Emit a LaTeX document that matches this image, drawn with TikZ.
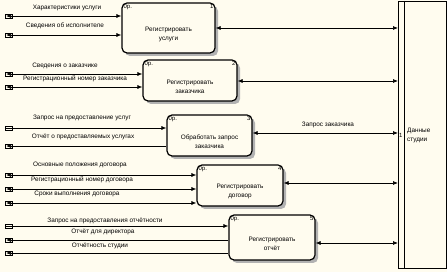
\documentclass[tikz,border=0pt]{standalone}
\usepackage{fontspec}
\setmainfont{Liberation Sans}
\usetikzlibrary{arrows.meta,shadows}
\definecolor{bgc}{HTML}{FFFCEF}
\tikzset{
  proc/.style={draw=black, line width=1.2pt, rounded corners=5pt, fill=bgc, inner sep=0pt,
    drop shadow={shadow xshift=3pt, shadow yshift=-3pt, fill=gray!60, opacity=1}},
  flow/.style={draw=black, line width=0.7pt},
  lbl/.style={font=\fontsize{6.4}{9}\selectfont, inner sep=0pt},
  small/.style={font=\fontsize{6}{6}\selectfont, inner sep=0pt},
  tun/.style={draw=black, line width=0.8pt}
}
\newcommand{\tunnel}[1]{%
  \draw[tun] ([xshift=-1pt,yshift=-1.5pt]#1) -- ++(0,-3.5) -- ++(7,0) -- ++(0,3.5);
  \draw[tun] ([xshift=-1pt,yshift=1.5pt]#1) -- ++(0,3.5) -- ++(7,0) -- ++(0,-3.5);}
\begin{document}
\begin{tikzpicture}[x=1pt,y=-1pt]
\fill[bgc] (0,0) rectangle (447,272);
\useasboundingbox (0,0) rectangle (447,272);

% data store
\node[draw=black, line width=0.8pt, minimum width=48pt, minimum height=267pt, inner sep=0pt, anchor=north west] (st) at (398,1) {};
\draw[line width=0.8pt] (404,1) -- (404,268);
\node[small] (stn) at (400.8,135) {1};
\node[lbl, align=left, anchor=west] (stl) at (407,135) {Данные\\ студии};

% process boxes
\node[proc, minimum width=93pt, minimum height=50pt] (b1) at (168.5,28) {};
\node[proc, minimum width=94pt, minimum height=41pt] (b2) at (190,80.5) {};
\node[proc, minimum width=85pt, minimum height=41pt] (b3) at (209.5,135.5) {};
\node[proc, minimum width=86pt, minimum height=41pt] (b4) at (240,185.5) {};
\node[proc, minimum width=86pt, minimum height=45pt] (b5) at (272,237.5) {};

\foreach \b/\n/\t in {b1/1/{Регистрировать\\ услуги}, b2/2/{Регистрировать\\ заказчика}, b3/3/{Обработать запрос\\ заказчика}, b4/4/{Регистрировать\\ договор}, b5/5/{Регистрировать\\ отчёт}}{
  \node[small, anchor=north west] (\b op) at ([xshift=2pt,yshift=-2pt]\b.north west) {0р.};
  \node[small, anchor=north east] (\b no) at ([xshift=-2pt,yshift=-2pt]\b.north east) {\n};
  \node[lbl, align=center] (\b nm) at ([yshift=-6pt]\b.center) {\t};
}

% connections to store
\coordinate (r1) at (0,28);
\coordinate (r2) at (0,81);
\coordinate (r3) at (0,133);
\coordinate (r4) at (0,183);
\coordinate (r5) at (0,243);
\foreach \b/\r in {b1/r1,b2/r2,b3/r3,b4/r4,b5/r5}{
  \draw[flow, {Latex[length=5pt,width=4pt]}-{Latex[length=5pt,width=4pt]}] (\b.east |- \r) -- (st.west |- \r);
}
\node[lbl] (q) at (328,125) {Запрос заказчика};

% left tunnels and flows
\coordinate (e11) at (6,16);
\coordinate (e12) at (6,35);
\coordinate (e21) at (6,74);
\coordinate (e22) at (6,87);
\coordinate (e31) at (6,128);
\coordinate (e32) at (6,146);
\coordinate (e41) at (6,175);
\coordinate (e42) at (6,189);
\coordinate (e43) at (6,203);
\coordinate (e51) at (6,226);
\coordinate (e52) at (6,240);
\coordinate (e53) at (6,253);
\foreach \e in {e11,e12,e21,e22,e31,e32,e41,e42,e43,e51,e52,e53}{\tunnel{\e}}

\foreach \e/\b in {e11/b1,e12/b1,e21/b2,e22/b2,e41/b4,e42/b4,e43/b4}{
  \draw[flow, {Latex[length=5pt,width=4pt]}-{Latex[length=5pt,width=4pt]}] (\e) -- (\e -| \b.west);
}
\draw[flow, -{Latex[length=5pt,width=4pt]}] ([xshift=-1pt]e31) -- (e31 -| b3.west);
\draw[flow, {Latex[length=5pt,width=4pt]}-] (e32) -- (e32 -| b3.west);
\draw[flow, -{Latex[length=5pt,width=4pt]}] ([xshift=-1pt]e51) -- (e51 -| b5.west);
\draw[flow, {Latex[length=5pt,width=4pt]}-] (e52) -- (e52 -| b5.west);
\draw[flow, {Latex[length=5pt,width=4pt]}-] (e53) -- (e53 -| b5.west);

% labels
\node[lbl] (l11) at (67,8) {Характеристики услуги};
\node[lbl] (l12) at (65,26) {Сведения об исполнителе};
\node[lbl] (l21) at (65,66) {Сведения о заказчике};
\node[lbl] (l22) at (75,79) {Регистрационный номер заказчика};
\node[lbl] (l31) at (82,118) {Запрос на предоставление услуг};
\node[lbl] (l32) at (83,137) {Отчёт о предоставляемых услугах};
\node[lbl] (l41) at (80,165) {Основные положения договора};
\node[lbl] (l42) at (82,180) {Регистрационный номер договора};
\node[lbl] (l43) at (77,194) {Сроки выполнения договора};
\node[lbl] (l51) at (105,221) {Запрос на предоставления отчётности};
\node[lbl] (l52) at (103,232) {Отчёт для директора};
\node[lbl] (l53) at (100,246) {Отчётность студии};
\end{tikzpicture}
\end{document}
